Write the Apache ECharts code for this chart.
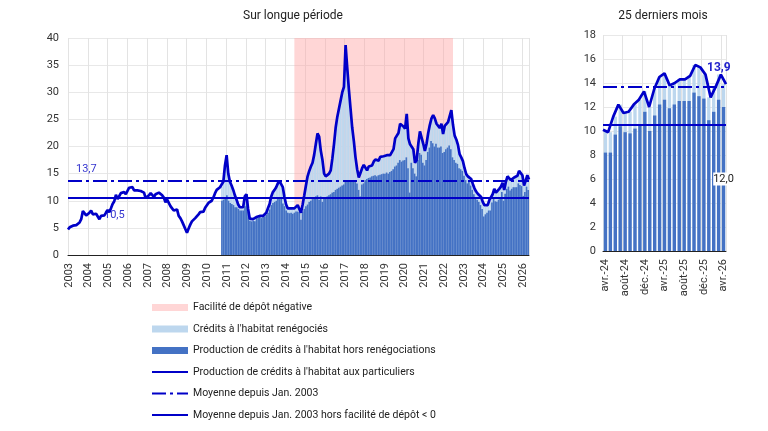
<!DOCTYPE html>
<html>
<head>
<meta charset="utf-8">
<script src="https://cdn.jsdelivr.net/npm/echarts@6/dist/echarts.min.js"></script>
<style>
html, body { margin: 0; padding: 0; background: #fff; }
#chart { width: 768px; height: 431px; }
</style>
</head>
<body>
<div id="chart"></div>
<script>
// Production de crédits à l'habitat aux particuliers (Md€, données mensuelles)
// série longue : janv. 2003 -> avr. 2026

var firstYear = 2003;
var monthCount = 280;
var bankStart = 93;          // oct. 2010 : début de la ventilation renégociations
var negStart = '2014-06';    // facilité de dépôt négative
var negEnd = '2022-06';
var avgAll = 13.7;
var avgExNeg = 10.5;

// production totale
var total = [
    4.7, 5.1, 5.3, 5.4, 5.4, 5.5, 5.8, 6.0, 6.6, 8.1, 7.8, 7.3,
    7.2, 7.8, 8.2, 7.5, 7.4, 7.6, 7.4, 6.6, 7.2, 7.3, 7.3, 7.6,
    8.3, 7.9, 8.6, 9.4, 9.9, 11.1, 10.3, 10.6, 11.4, 11.5, 11.6, 11.2,
    11.3, 12.4, 12.1, 12.5, 11.9, 12.0, 11.9, 11.8, 11.8, 11.9, 11.5, 10.5,
    10.4, 11.0, 11.4, 11.3, 10.7, 11.2, 11.5, 11.5, 11.4, 11.0, 10.6, 9.7,
    10.2, 9.6, 9.0, 8.6, 8.2, 8.1, 8.4, 7.2, 6.8, 6.2, 5.5, 4.8,
    4.1, 4.9, 5.6, 6.2, 6.5, 6.8, 7.1, 7.5, 7.9, 7.8, 8.0, 8.7,
    8.5, 9.6, 9.8, 10.0, 10.6, 11.4, 12.0, 12.3, 12.5, 12.6, 13.5, 16.5,
    18.4, 15.0, 13.5, 12.8, 12.0, 11.0, 10.2, 9.3, 8.8, 8.7, 8.8, 10.8,
    11.2, 8.5, 6.7, 6.5, 6.6, 6.4, 7.0, 7.1, 7.2, 7.1, 7.2, 7.4,
    7.8, 8.6, 9.4, 10.8, 11.6, 12.0, 12.5, 13.2, 13.6, 13.5, 12.5, 10.7,
    9.3, 8.6, 8.6, 8.6, 8.3, 8.6, 8.8, 9.2, 8.9, 7.8, 9.3, 11.0,
    12.8, 14.5, 15.5, 16.3, 17.0, 18.5, 20.5, 22.4, 21.8, 19.2, 17.5, 15.0,
    14.5, 14.2, 15.0, 15.6, 17.8, 20.5, 23.5, 25.5, 27.0, 28.5, 30.0, 31.0,
    38.7, 34.5, 30.5, 27.0, 23.5, 21.0, 18.0, 15.8, 14.3, 14.2, 16.0, 16.6,
    16.5, 15.6, 16.3, 16.3, 16.5, 17.2, 17.6, 17.8, 17.4, 18.1, 18.0, 18.2,
    18.4, 18.4, 18.2, 18.4, 18.3, 19.5, 21.5, 21.8, 22.5, 24.2, 23.9, 23.7,
    23.3, 26.0, 21.5, 20.4, 20.6, 19.5, 17.0, 17.5, 20.5, 22.8, 22.5, 20.5,
    19.2, 20.5, 22.5, 24.0, 25.2, 25.8, 25.2, 24.2, 24.5, 23.4, 24.2, 22.3,
    23.8, 23.5, 24.5, 25.6, 26.7, 24.0, 22.0, 21.3, 20.3, 18.6, 18.0, 17.3,
    16.0, 14.9, 14.5, 14.7, 14.0, 13.1, 12.3, 11.7, 11.3, 11.0, 10.7, 9.8,
    9.2, 8.9, 9.2, 10.1, 9.9, 11.2, 12.2, 11.5, 11.6, 12.2, 12.6, 13.3,
    12.0, 13.5, 14.5, 14.8, 13.8, 14.0, 14.3, 14.3, 14.6, 15.5, 15.3, 14.7,
    12.8, 13.7, 14.7, 13.9
];

// production hors renégociations, à partir d'oct. 2010
var horsReneg = [
    10.0, 10.2, 10.5,
    11.0, 10.0, 9.6, 9.4, 9.2, 8.8, 8.8, 8.5, 8.2, 8.2, 8.2, 9.0,
    10.5, 8.0, 6.3, 6.2, 6.3, 6.2, 6.8, 6.9, 7.0, 6.8, 7.0, 7.1,
    7.4, 7.8, 8.4, 9.2, 9.6, 9.8, 10.0, 10.4, 10.3, 10.4, 9.5, 9.0,
    8.2, 7.8, 7.7, 7.8, 7.6, 7.8, 8.0, 8.0, 7.9, 6.5, 8.0, 8.5,
    9.0, 9.3, 9.8, 10.0, 10.3, 10.5, 10.8, 11.0, 10.2, 10.8, 9.8, 10.5,
    10.5, 10.8, 11.0, 11.2, 11.5, 11.6, 12.0, 12.2, 12.4, 12.6, 12.8, 13.0,
    13.7, 13.7, 13.7, 13.7, 13.7, 13.6, 13.5, 13.2, 12.0, 10.8, 13.0, 13.2,
    13.8, 14.0, 14.2, 14.3, 14.5, 14.6, 14.7, 14.5, 14.7, 14.8, 14.9, 15.0,
    15.0, 15.2, 15.0, 15.3, 15.5, 15.8, 16.3, 16.5, 17.0, 17.5, 17.2, 17.4,
    17.5, 18.0, 16.0, 11.5, 17.0, 16.0, 15.0, 14.5, 17.5, 18.8, 18.5, 17.0,
    16.5, 17.5, 19.0, 19.8, 21.0, 20.6, 20.0, 20.5, 19.8, 19.8, 20.0, 18.8,
    19.0, 19.5, 19.8, 20.2, 19.5, 18.0, 17.5, 17.0, 16.8, 16.0, 15.8, 15.5,
    14.6, 13.8, 13.2, 13.5, 12.8, 12.0, 11.2, 10.5, 10.2, 9.8, 9.2, 8.5,
    7.1, 7.5, 7.8, 8.2, 8.2, 9.7, 10.4, 9.9, 9.8, 10.2, 10.5, 11.6,
    10.0, 11.3, 12.2, 12.6, 11.9, 12.2, 12.5, 12.5, 12.5, 13.2, 12.9, 12.7,
    10.9, 11.6, 12.6, 12.0
];

var recentLabels = [
    'avr.-24', 'mai-24', 'juin-24', 'juil.-24', 'août-24', 'sept.-24', 'oct.-24', 'nov.-24', 'déc.-24',
    'janv.-25', 'févr.-25', 'mars-25', 'avr.-25', 'mai-25', 'juin-25', 'juil.-25', 'août-25', 'sept.-25',
    'oct.-25', 'nov.-25', 'déc.-25', 'janv.-26', 'févr.-26', 'mars-26', 'avr.-26'
];

var NAME_NEG = 'Facilité de dépôt négative';
var NAME_RENEG = "Crédits à l'habitat renégociés";
var NAME_HORS = "Production de crédits à l'habitat hors renégociations";
var NAME_TOTAL = "Production de crédits à l'habitat aux particuliers";
var NAME_AVG = 'Moyenne depuis Jan. 2003';
var NAME_AVG2 = 'Moyenne depuis Jan. 2003 hors facilité de dépôt < 0';

var FONT = 'Roboto, "Liberation Sans", sans-serif';
var BLUE = '#0000c8';
var DASHDOT = [14, 4, 3, 4];

var months = [];
for (var i = 0; i < monthCount; i++) {
    var y = firstYear + Math.floor(i / 12);
    var m = i % 12 + 1;
    months.push(y + '-' + (m < 10 ? '0' + m : m));
}
var pad = [];
for (var k = 0; k < bankStart; k++) pad.push(null);

function fmt(v) {
    return v.toFixed(1).replace('.', ',');
}

var recentTotal = total.slice(-recentLabels.length);
var recentHors = horsReneg.slice(-recentLabels.length);

var chart = echarts.init(document.getElementById('chart'));

var yearTick = function (idx) { return idx % 12 === 0; };
var noSymbol = { opacity: 0 };

chart.setOption({
    animation: false,
    textStyle: { fontFamily: FONT },
    title: [
        { text: 'Sur longue période', left: 288, top: 5, textAlign: 'center',
          textStyle: { fontSize: 12, fontWeight: 'normal', color: '#222' } },
        { text: '25 derniers mois', left: 658, top: 5, textAlign: 'center',
          textStyle: { fontSize: 12, fontWeight: 'normal', color: '#222' } }
    ],
    legend: {
        orient: 'vertical',
        left: 151,
        top: 302,
        padding: 0,
        itemWidth: 36,
        itemHeight: 7,
        itemGap: 10.5,
        selectedMode: false,
        textStyle: { fontSize: 10.5, color: '#222', fontFamily: FONT },
        data: [
            { name: NAME_NEG, icon: 'rect' },
            { name: NAME_RENEG, icon: 'rect' },
            { name: NAME_HORS, icon: 'rect' },
            { name: NAME_TOTAL, itemStyle: noSymbol },
            { name: NAME_AVG, itemStyle: noSymbol },
            { name: NAME_AVG2, itemStyle: noSymbol }
        ]
    },
    grid: [
        { left: 68, top: 38, width: 461, height: 217 },
        { left: 603, top: 35, width: 123, height: 216 }
    ],
    xAxis: [
        {
            type: 'category', gridIndex: 0, data: months, boundaryGap: true,
            axisLine: { lineStyle: { color: '#222' } },
            axisTick: { interval: yearTick, length: 5, lineStyle: { color: '#222' } },
            axisLabel: {
                interval: yearTick, rotate: 90, fontSize: 11, color: '#333',
                formatter: function (v) { return v.slice(0, 4); }
            },
            splitLine: { show: true, interval: yearTick, lineStyle: { color: '#e3e3e3' } }
        },
        {
            type: 'category', gridIndex: 0, data: months, boundaryGap: false, show: false
        },
        {
            type: 'category', gridIndex: 1, data: recentLabels, boundaryGap: true,
            axisLine: { lineStyle: { color: '#222' } },
            axisTick: { interval: 3, length: 5, lineStyle: { color: '#222' } },
            axisLabel: { interval: 3, rotate: 90, fontSize: 11, color: '#333' },
            splitLine: { show: true, interval: 3, lineStyle: { color: '#e3e3e3' } }
        },
        {
            type: 'category', gridIndex: 1, data: recentLabels, boundaryGap: false, show: false
        }
    ],
    yAxis: [
        {
            type: 'value', gridIndex: 0, min: 0, max: 40, interval: 5,
            axisLine: { show: false }, axisTick: { show: false },
            axisLabel: { fontSize: 11, color: '#333', margin: 9 },
            splitLine: { lineStyle: { color: '#e8e8e8' } }
        },
        {
            type: 'value', gridIndex: 1, min: 0, max: 18, interval: 2,
            axisLine: { show: false }, axisTick: { show: false },
            axisLabel: { fontSize: 11, color: '#333', margin: 7 },
            splitLine: { lineStyle: { color: '#e8e8e8' } }
        }
    ],
    series: [
        // --- longue période ---
        {
            name: NAME_NEG, type: 'line', xAxisIndex: 1, yAxisIndex: 0, data: [],
            color: '#ffd6d6', itemStyle: { color: '#ffd6d6' },
            markArea: {
                silent: true,
                itemStyle: { color: 'rgba(255,165,165,0.45)' },
                data: [[{ xAxis: negStart }, { xAxis: negEnd }]]
            }
        },
        {
            name: NAME_RENEG, type: 'bar', xAxisIndex: 0, yAxisIndex: 0,
            data: pad.concat(total.slice(bankStart)),
            barGap: '-100%', barCategoryGap: '0%',
            itemStyle: { color: '#bdd7ee' }
        },
        {
            name: NAME_HORS, type: 'bar', xAxisIndex: 0, yAxisIndex: 0,
            data: pad.concat(horsReneg),
            barGap: '-100%', barCategoryGap: '0%',
            itemStyle: { color: '#4472c4' }
        },
        {
            name: NAME_TOTAL, type: 'line', xAxisIndex: 1, yAxisIndex: 0,
            data: total, symbol: 'none', z: 5,
            lineStyle: { color: BLUE, width: 2.7 }, itemStyle: { color: BLUE }
        },
        {
            name: NAME_AVG, type: 'line', xAxisIndex: 1, yAxisIndex: 0, data: [],
            symbol: 'none', itemStyle: { color: BLUE },
            lineStyle: { color: BLUE, width: 2, type: DASHDOT },
            markLine: {
                silent: true, symbol: 'none',
                lineStyle: { color: BLUE, width: 2, type: DASHDOT },
                label: { show: true, position: 'insideStartTop', distance: [8, 6],
                         formatter: fmt(avgAll), color: '#3535cf', fontSize: 11 },
                data: [{ yAxis: avgAll }]
            }
        },
        {
            name: NAME_AVG2, type: 'line', xAxisIndex: 1, yAxisIndex: 0, data: [],
            symbol: 'none', itemStyle: { color: BLUE },
            lineStyle: { color: BLUE, width: 1.8 },
            markLine: {
                silent: true, symbol: 'none',
                lineStyle: { color: BLUE, width: 1.8, type: 'solid' },
                label: { show: true, position: 'insideStartBottom', distance: [36, 12],
                         formatter: fmt(avgExNeg), color: '#3535cf', fontSize: 11 },
                data: [{ yAxis: avgExNeg }]
            }
        },
        // --- 25 derniers mois ---
        {
            name: NAME_RENEG, type: 'bar', xAxisIndex: 2, yAxisIndex: 1,
            data: recentTotal, barGap: '-100%', barCategoryGap: '32%',
            itemStyle: { color: '#bdd7ee' }
        },
        {
            name: NAME_HORS, type: 'bar', xAxisIndex: 2, yAxisIndex: 1,
            data: recentHors.map(function (v, i) {
                if (i < recentHors.length - 1) return v;
                return {
                    value: v,
                    label: { show: true, position: 'inside', formatter: fmt(v),
                             color: '#222', fontSize: 11, backgroundColor: '#fff', padding: [1, 0] }
                };
            }),
            barGap: '-100%', barCategoryGap: '32%',
            itemStyle: { color: '#4472c4' }
        },
        {
            name: NAME_TOTAL, type: 'line', xAxisIndex: 3, yAxisIndex: 1,
            data: recentTotal, symbol: 'none', z: 5,
            lineStyle: { color: BLUE, width: 2.7 }, itemStyle: { color: BLUE },
            endLabel: {
                show: true, offset: [-27, -16],
                formatter: function (p) { return fmt(p.value); },
                color: '#1f1fcc', fontSize: 12, fontWeight: 'bold'
            }
        },
        {
            name: NAME_AVG, type: 'line', xAxisIndex: 3, yAxisIndex: 1, data: [],
            symbol: 'none', lineStyle: { color: BLUE, width: 2, type: DASHDOT },
            markLine: {
                silent: true, symbol: 'none', label: { show: false },
                lineStyle: { color: BLUE, width: 2, type: DASHDOT },
                data: [{ yAxis: avgAll }]
            }
        },
        {
            name: NAME_AVG2, type: 'line', xAxisIndex: 3, yAxisIndex: 1, data: [],
            symbol: 'none', lineStyle: { color: BLUE, width: 1.8 },
            markLine: {
                silent: true, symbol: 'none', label: { show: false },
                lineStyle: { color: BLUE, width: 1.8, type: 'solid' },
                data: [{ yAxis: avgExNeg }]
            }
        }
    ]
});
</script>
</body>
</html>
